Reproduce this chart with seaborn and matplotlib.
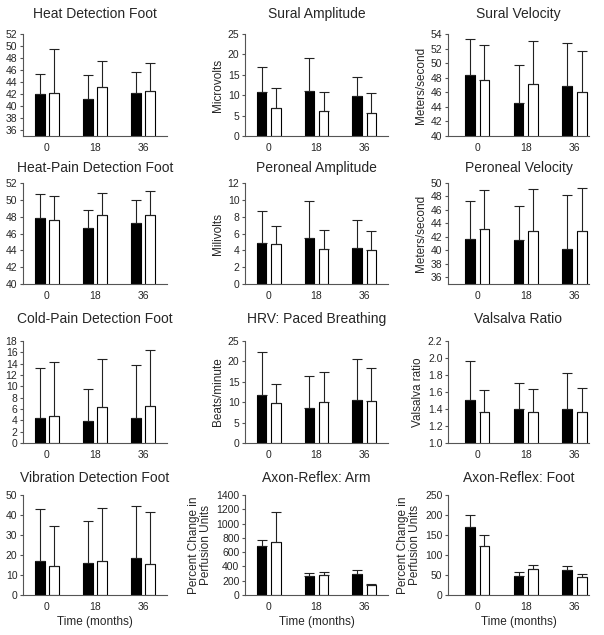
import numpy as np
import pandas as pd
import seaborn as sns
import matplotlib.pyplot as plt
from matplotlib.ticker import FormatStrFormatter

# data: mean and SD for black / white groups at 0, 18, 36 months
months = ['0', '18', '36']

titles = ['Heat Detection Foot', 'Sural Amplitude', 'Sural Velocity',
          'Heat-Pain Detection Foot', 'Peroneal Amplitude', 'Peroneal Velocity',
          'Cold-Pain Detection Foot', 'HRV: Paced Breathing', 'Valsalva Ratio',
          'Vibration Detection Foot', 'Axon-Reflex: Arm', 'Axon-Reflex: Foot']

ylabels = ['', 'Microvolts', 'Meters/second',
           '', 'Milivolts', 'Meters/second',
           '', 'Beats/minute', 'Valsalva ratio',
           '', 'Percent Change in\nPerfusion Units', 'Percent Change in\nPerfusion Units']

black_mean = [[42.0, 41.2, 42.1], [10.8, 11.0, 9.7], [48.4, 44.5, 46.8],
              [47.8, 46.7, 47.3], [4.9, 5.5, 4.3], [41.7, 41.6, 40.2],
              [4.4, 3.8, 4.4], [11.7, 8.7, 10.6], [1.51, 1.40, 1.40],
              [16.8, 15.9, 18.5], [680, 265, 295], [170, 48, 62]]
black_sd = [[3.3, 4.0, 3.6], [6.0, 8.1, 4.8], [4.9, 5.3, 6.0],
            [2.9, 2.1, 2.7], [3.8, 4.4, 3.3], [5.7, 5.0, 8.0],
            [8.8, 5.8, 9.3], [10.7, 7.6, 10.0], [0.45, 0.31, 0.42],
            [26.4, 21.1, 26.1], [95, 50, 50], [30, 10, 11]]
white_mean = [[42.2, 43.1, 42.5], [6.9, 6.2, 5.7], [47.7, 47.2, 46.0],
              [47.6, 48.2, 48.2], [4.7, 4.2, 4.0], [43.1, 42.9, 42.9],
              [4.7, 6.4, 6.5], [9.8, 10.1, 10.4], [1.37, 1.37, 1.37],
              [14.7, 17.2, 15.6], [740, 285, 140], [122, 65, 44]]
white_sd = [[7.3, 4.4, 4.6], [4.8, 4.7, 4.8], [4.8, 5.9, 5.7],
            [2.8, 2.6, 2.8], [2.2, 2.2, 2.3], [5.9, 6.2, 6.3],
            [9.6, 8.4, 9.9], [4.6, 7.4, 8.0], [0.25, 0.27, 0.28],
            [19.8, 26.4, 25.8], [420, 40, 20], [28, 10, 9]]

ylims = [(35, 52), (0, 25), (40, 54), (40, 52), (0, 12), (35, 50),
         (0, 18), (0, 25), (1.0, 2.2), (0, 50), (0, 1400), (0, 250)]
ysteps = [2, 5, 2, 2, 2, 2, 2, 5, 0.2, 10, 200, 50]
yfirst = [36, 0, 40, 40, 0, 36, 0, 0, 1.0, 0, 0, 0]

sns.set_theme(style='ticks')
plt.rcParams['font.family'] = ['Liberation Sans', 'DejaVu Sans']

W, H = 604, 635
fig = plt.figure(figsize=(W / 100, H / 100), dpi=100)

# panel layout in pixels
col_l = [23, 245, 448]
col_r = [167, 388, 589]
row_t = [34, 183, 341, 495]
row_b = [136, 284, 443, 595]
col_xlim = [(-0.5, 2.5), (-0.5, 2.5), (-0.6, 2.3)]
title_pad = [11.5, 8, 13, 9.5]

for i in range(12):
    r, c = divmod(i, 3)
    ax = fig.add_axes([col_l[c] / W, 1 - row_b[r] / H,
                       (col_r[c] - col_l[c]) / W, (row_b[r] - row_t[r]) / H])
    df = pd.DataFrame({
        'month': months * 2,
        'group': ['A'] * 3 + ['B'] * 3,
        'value': black_mean[i] + white_mean[i],
    })
    sns.barplot(data=df, x='month', y='value', hue='group', order=months,
                palette={'A': 'black', 'B': 'white'}, edgecolor='black',
                linewidth=0.8, width=0.6, gap=1 / 3, errorbar=None,
                legend=False, ax=ax)

    # error bars (upper only) on top of the drawn bars
    bars = sorted(ax.patches, key=lambda p: p.get_x())
    xs = [p.get_x() + p.get_width() / 2 for p in bars]
    means = [v for pair in zip(black_mean[i], white_mean[i]) for v in pair]
    sds = [v for pair in zip(black_sd[i], white_sd[i]) for v in pair]
    ax.errorbar(xs, means, yerr=[np.zeros(len(sds)), sds], fmt='none',
                ecolor='#222222', elinewidth=0.8, capsize=3.5, capthick=0.8,
                zorder=3)

    ax.set_xlim(*col_xlim[c])
    ax.set_ylim(*ylims[i])
    ax.set_yticks(np.arange(yfirst[i], ylims[i][1] + ysteps[i] / 2, ysteps[i]))
    if i == 8:
        ax.yaxis.set_major_formatter(FormatStrFormatter('%.1f'))
    ax.tick_params(axis='y', length=2.5, width=0.8, pad=1.5, labelsize=7.5,
                   color='#555555')
    ax.tick_params(axis='x', length=0, pad=5, labelsize=7.5)
    for s in ['left', 'bottom']:
        ax.spines[s].set_color('#555555')
        ax.spines[s].set_linewidth(0.8)
    sns.despine(ax=ax)

    ax.set_title(titles[i], fontsize=10, pad=title_pad[r])
    ax.set_ylabel(ylabels[i], fontsize=8.5, labelpad=3, linespacing=1.0)
    ax.set_xlabel('Time (months)' if r == 3 else '', fontsize=8.5, labelpad=3)

plt.savefig('out.png', dpi=100)
